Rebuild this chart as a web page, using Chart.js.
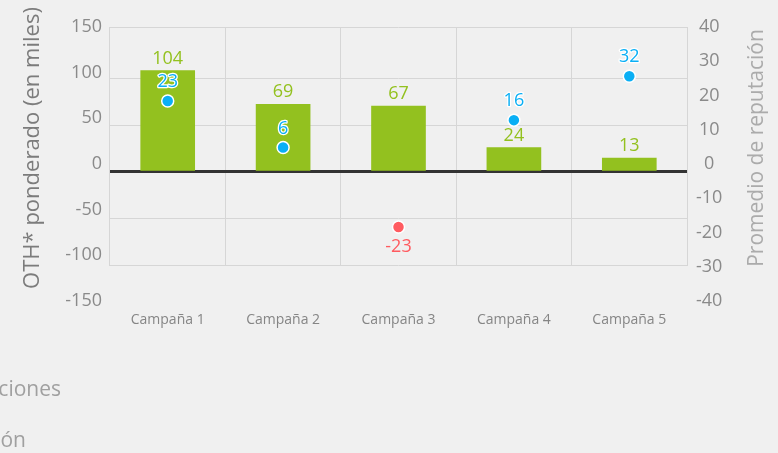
<!DOCTYPE html>
<html>
<head>
<meta charset="utf-8">
<script src="https://cdn.jsdelivr.net/npm/chart.js@4"></script>
<style>
html, body { margin: 0; padding: 0; background: #f0f0f0; }
#wrap { position: relative; width: 778px; height: 453px; overflow: hidden; }
</style>
</head>
<body>
<div id="wrap"><canvas id="chart"></canvas></div>
<script>
const campanas = ["Campaña 1", "Campaña 2", "Campaña 3", "Campaña 4", "Campaña 5"]
const oth = [104, 69, 67, 24, 13]
const reputacion = [23, 6, -23, 16, 32]
const ticksIzq = [-150, -100, -50, 0, 50, 100, 150]
const ticksDer = [-40, -30, -20, -10, 0, 10, 20, 30, 40]
const lineasGuia = [-100, -50, 0, 50, 100, 155.9]
const leyenda = ["Menciones", "Reputación"]

Chart.defaults.font.family = "'Open Sans', sans-serif"

const fondo = "#f0f0f0"
const verde = "#93c11f"
const azul = "#0aaff5"
const rojo = "#ff5b60"

const textos = {
    id: "textos",
    beforeDatasetsDraw(chart) {
        // el recuadro de la grilla termina en -100, tapar lo de abajo
        const {ctx, chartArea} = chart
        const yFin = chart.scales.yGrid.getPixelForValue(lineasGuia[0])
        ctx.save()
        ctx.fillStyle = fondo
        ctx.fillRect(chartArea.left - 1, yFin + 1, chartArea.right - chartArea.left + 3, chartArea.bottom - yFin + 2)
        ctx.restore()
    },
    afterDatasetsDraw(chart) {
        const ctx = chart.ctx
        ctx.save()
        ctx.font = "18px 'Open Sans'"
        ctx.textAlign = "center"
        ctx.textBaseline = "middle"
        ctx.lineJoin = "round"
        chart.getDatasetMeta(0).data.forEach((bar, i) => {
            ctx.fillStyle = verde
            ctx.fillText(oth[i], bar.x, bar.y - 12)
        })
        chart.getDatasetMeta(1).data.forEach((pt, i) => {
            const v = reputacion[i]
            const y = v < 0 ? pt.y + 20 : pt.y - 19
            if (v >= 0) {
                ctx.lineWidth = 2.5
                ctx.strokeStyle = "#fff"
                ctx.strokeText(v, pt.x, y)
            }
            ctx.fillStyle = v < 0 ? rojo : azul
            ctx.fillText(v, pt.x, y)
        })
        ctx.restore()
    },
    afterDraw(chart) {
        const ctx = chart.ctx
        ctx.save()
        ctx.textAlign = "center"
        ctx.textBaseline = "middle"

        ctx.save()
        ctx.translate(33, 148)
        ctx.rotate(-Math.PI / 2)
        ctx.font = "22px 'Open Sans'"
        ctx.fillStyle = "#7c7c7c"
        ctx.fillText("OTH* ponderado (en miles)", 0, 0)
        ctx.restore()

        ctx.save()
        ctx.translate(757, 148)
        ctx.rotate(-Math.PI / 2)
        ctx.font = "21px 'Open Sans'"
        ctx.fillStyle = "#ababab"
        ctx.fillText("Promedio de reputación", 0, 0)
        ctx.restore()

        // leyenda, queda cortada a la izquierda
        ctx.textAlign = "right"
        ctx.textBaseline = "alphabetic"
        ctx.font = "21px 'Open Sans'"
        ctx.fillStyle = "#a0a0a0"
        ctx.fillText(leyenda[0], 61, 396)
        ctx.fillText(leyenda[1], 26, 447)
        ctx.restore()
    }
}

new Chart(document.getElementById("chart"), {
    type: "bar",
    data: {
        labels: campanas,
        datasets: [
            {
                type: "bar",
                label: leyenda[0],
                data: oth,
                yAxisID: "yBar",
                backgroundColor: verde,
                barThickness: 54,
                order: 2
            },
            {
                type: "line",
                label: leyenda[1],
                data: reputacion,
                yAxisID: "yPts",
                showLine: false,
                pointRadius: 6,
                pointHoverRadius: 6,
                pointBorderWidth: 1.5,
                pointBorderColor: "#fff",
                pointBackgroundColor: c => reputacion[c.dataIndex] < 0 ? rojo : azul,
                order: 1
            }
        ]
    },
    options: {
        responsive: true,
        maintainAspectRatio: false,
        animation: false,
        layout: { padding: { top: 27, bottom: 112, left: 0, right: 0 } },
        plugins: {
            legend: { display: false },
            tooltip: { enabled: false }
        },
        scales: {
            x: {
                offset: true,
                grid: { offset: true, color: "#d6d6d6", drawTicks: false },
                border: { display: false },
                ticks: { color: "#858585", font: { size: 14 }, padding: 11 },
                afterFit: s => { s.height = 40 }
            },
            yLeft: {
                position: "left",
                min: -150,
                max: 150,
                afterBuildTicks: s => { s.ticks = ticksIzq.map(v => ({ value: v })) },
                grid: { display: false, drawTicks: false },
                border: { display: false },
                ticks: { color: "#8a8a8a", font: { size: 18 }, padding: 8 },
                afterFit: s => { s.width = 110 }
            },
            yGrid: {
                position: "left",
                min: -138.7,
                max: 155.9,
                afterBuildTicks: s => { s.ticks = lineasGuia.map(v => ({ value: v })) },
                ticks: { display: false },
                grid: {
                    drawTicks: false,
                    color: c => c.tick.value === 0 ? "#333" : "#d6d6d6",
                    lineWidth: c => c.tick.value === 0 ? 3 : 1
                },
                border: { display: false },
                afterFit: s => { s.width = 0 }
            },
            yBar: { display: false, min: -135.9, max: 149.5 },
            yPts: { display: false, min: -50, max: 50 },
            yRight: {
                position: "right",
                min: -40,
                max: 40,
                afterBuildTicks: s => { s.ticks = ticksDer.map(v => ({ value: v })) },
                grid: { display: false, drawTicks: false },
                border: { display: false },
                ticks: { color: "#8a8a8a", font: { size: 18 }, padding: 9, crossAlign: "center" },
                afterFit: s => { s.width = 91 }
            }
        }
    },
    plugins: [textos]
})
</script>
</body>
</html>
